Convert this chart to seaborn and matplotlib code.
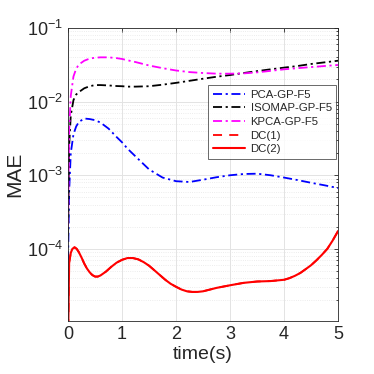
import matplotlib
matplotlib.use("Agg")
import matplotlib.pyplot as plt
import seaborn as sns
import numpy as np
import pandas as pd
from matplotlib.ticker import LogLocator, FixedLocator, NullFormatter

# time samples (s) for the GP curves
t = [0, 0.02, 0.05, 0.1, 0.15, 0.2, 0.3, 0.4, 0.5, 0.6, 0.75, 0.9, 1.0, 1.1, 1.25,
     1.5, 1.75, 2.0, 2.25, 2.5, 2.75, 3.0, 3.25, 3.5, 3.75, 4.0, 4.25, 4.5, 4.75, 5.0]

pca_gp = [7e-5, 6e-4, 2e-3, 3.6e-3, 4.6e-3, 5.3e-3, 5.9e-3, 5.8e-3, 5.6e-3, 5.2e-3,
          4.3e-3, 3.3e-3, 2.8e-3, 2.3e-3, 1.8e-3, 1.2e-3, 9.3e-4, 8.3e-4, 8.1e-4, 8.7e-4,
          9.4e-4, 1.0e-3, 1.04e-3, 1.05e-3, 1.0e-3, 9.3e-4, 8.6e-4, 7.9e-4, 7.3e-4, 6.7e-4]

isomap_gp = [1.5e-4, 2.5e-3, 6.5e-3, 1.05e-2, 1.25e-2, 1.35e-2, 1.52e-2, 1.62e-2, 1.68e-2, 1.68e-2,
             1.66e-2, 1.63e-2, 1.62e-2, 1.6e-2, 1.6e-2, 1.62e-2, 1.7e-2, 1.8e-2, 1.92e-2, 2.05e-2,
             2.18e-2, 2.3e-2, 2.45e-2, 2.6e-2, 2.75e-2, 2.9e-2, 3.05e-2, 3.25e-2, 3.42e-2, 3.6e-2]

kpca_gp = [2e-4, 4e-3, 1.2e-2, 2.2e-2, 2.8e-2, 3.2e-2, 3.6e-2, 3.85e-2, 3.95e-2, 4.0e-2,
           4.0e-2, 3.9e-2, 3.8e-2, 3.65e-2, 3.45e-2, 3.1e-2, 2.85e-2, 2.65e-2, 2.52e-2, 2.45e-2,
           2.4e-2, 2.4e-2, 2.42e-2, 2.5e-2, 2.62e-2, 2.75e-2, 2.85e-2, 2.95e-2, 3.05e-2, 3.15e-2]

# time samples (s) for the DC curves (denser, they wiggle more)
t_dc = [0, 0.02, 0.05, 0.08, 0.12, 0.16, 0.2, 0.25, 0.3, 0.35, 0.4, 0.45, 0.5, 0.55, 0.6,
        0.7, 0.8, 0.9, 1.0, 1.1, 1.2, 1.3, 1.4, 1.5, 1.6, 1.7, 1.8, 1.9, 2.0, 2.1, 2.2,
        2.3, 2.4, 2.5, 2.75, 3.0, 3.25, 3.5, 3.75, 4.0, 4.1, 4.2, 4.3, 4.4, 4.5, 4.6,
        4.7, 4.8, 4.9, 5.0]

dc1 = [5e-6, 6.5e-5, 8.8e-5, 1.0e-4, 1.05e-4, 1.0e-4, 9.0e-5, 7.6e-5, 6.3e-5, 5.4e-5,
       4.8e-5, 4.4e-5, 4.2e-5, 4.2e-5, 4.35e-5, 4.9e-5, 5.7e-5, 6.5e-5, 7.1e-5, 7.5e-5,
       7.5e-5, 7.2e-5, 6.6e-5, 5.9e-5, 5.1e-5, 4.4e-5, 3.8e-5, 3.35e-5, 3.05e-5, 2.8e-5,
       2.65e-5, 2.6e-5, 2.6e-5, 2.65e-5, 2.95e-5, 3.2e-5, 3.45e-5, 3.6e-5, 3.65e-5, 3.8e-5,
       4.0e-5, 4.3e-5, 4.7e-5, 5.3e-5, 6.0e-5, 7.0e-5, 8.3e-5, 1.0e-4, 1.3e-4, 1.75e-4]

dc2 = [5e-6, 6.5e-5, 8.8e-5, 1.0e-4, 1.05e-4, 1.0e-4, 9.0e-5, 7.6e-5, 6.3e-5, 5.4e-5,
       4.8e-5, 4.4e-5, 4.2e-5, 4.2e-5, 4.35e-5, 4.9e-5, 5.7e-5, 6.5e-5, 7.1e-5, 7.5e-5,
       7.5e-5, 7.2e-5, 6.6e-5, 5.9e-5, 5.1e-5, 4.4e-5, 3.8e-5, 3.35e-5, 3.05e-5, 2.8e-5,
       2.65e-5, 2.6e-5, 2.6e-5, 2.65e-5, 2.95e-5, 3.2e-5, 3.45e-5, 3.6e-5, 3.65e-5, 3.8e-5,
       4.0e-5, 4.3e-5, 4.7e-5, 5.3e-5, 6.0e-5, 7.0e-5, 8.3e-5, 1.0e-4, 1.3e-4, 1.75e-4]

labels = ["PCA-GP-F5", "ISOMAP-GP-F5", "KPCA-GP-F5", "DC(1)", "DC(2)"]
colors = ["#0000ff", "#000000", "#ff00ff", "#ff0000", "#ff0000"]

sns.set_style("white")
plt.rcParams["font.family"] = ["Liberation Sans", "DejaVu Sans"]
plt.rcParams["mathtext.fontset"] = "custom"
plt.rcParams["mathtext.rm"] = "Liberation Sans"

fig = plt.figure(figsize=(3.74, 3.74), dpi=100)
ax = fig.add_axes([0.182, 0.142, 0.722, 0.783])

dashdot = (5, 2, 1.2, 2)
series = [(t, pca_gp), (t, isomap_gp), (t, kpca_gp), (t_dc, dc1), (t_dc, dc2)]
styles = [dashdot, dashdot, dashdot, (5, 4), None]
widths = [1.3, 1.3, 1.3, 1.3, 1.5]
for (x, y), lab, c, st, lw in zip(series, labels, colors, styles, widths):
    df = pd.DataFrame({"t": x, "mae": y})
    sns.lineplot(data=df, x="t", y="mae", color=c, lw=lw, ax=ax, label=lab)
    if st is not None:
        ax.lines[-1].set_dashes(st)

ax.set_yscale("log")
ax.set_xlim(0, 5)
ax.set_ylim(1.05e-5, 1e-1)

ax.xaxis.set_major_locator(FixedLocator([0, 1, 2, 3, 4, 5]))
ax.yaxis.set_major_locator(FixedLocator([1e-4, 1e-3, 1e-2, 1e-1]))
ax.yaxis.set_minor_locator(LogLocator(base=10, subs=np.arange(2, 10)))
ax.yaxis.set_minor_formatter(NullFormatter())

ax.grid(True, which="major", color="#e3e3e3", lw=0.7)
ax.grid(True, which="minor", axis="y", color="#e6e6e6", lw=0.6, ls=":")
ax.set_axisbelow(True)

ax.tick_params(axis="both", which="both", direction="in", colors="#262626",
               labelsize=13, length=3, width=0.6)
ax.tick_params(axis="y", which="minor", length=1.5)
ax.tick_params(top=True, right=True, which="both")
for s in ax.spines.values():
    s.set_color("#262626")
    s.set_linewidth(0.6)

ax.set_xlabel("time(s)", fontsize=14, color="#262626", labelpad=2)
ax.set_ylabel("MAE", fontsize=15, color="#262626", labelpad=2)

leg = ax.legend(loc="upper left", bbox_to_anchor=(0.52, 0.805), fontsize=8.2,
                frameon=True, fancybox=False, handlelength=2.8, borderpad=0.4,
                labelspacing=0.32, handletextpad=0.5, borderaxespad=0)
leg.get_frame().set_edgecolor("#262626")
leg.get_frame().set_linewidth(0.6)

fig.savefig("out.png", dpi=100)
